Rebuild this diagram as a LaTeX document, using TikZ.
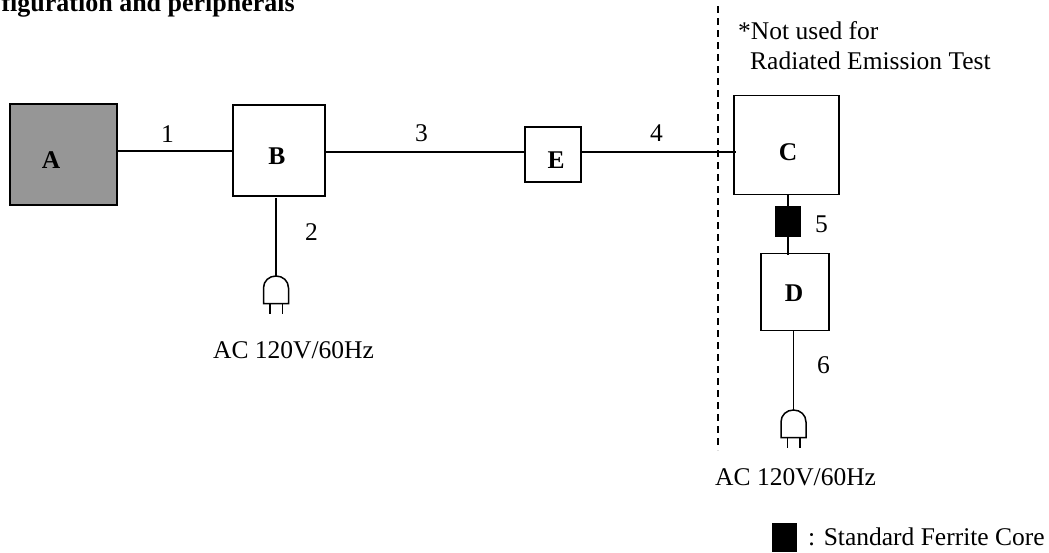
\documentclass[tikz,border=0pt]{standalone}
\usepackage{fontspec}
\setmainfont{Liberation Serif}
\definecolor{boxgrey}{HTML}{969696}
\tikzset{
  box/.style={draw=black,line width=1.6pt,inner sep=0pt,minimum width=0pt},
  wire/.style={draw=black,line width=1.6pt},
  lbl/.style={inner sep=0pt,anchor=base west,font=\fontsize{25.5}{30}\selectfont},
  letter/.style={inner sep=0pt,font=\fontsize{25.5}{30}\selectfont\bfseries},
  plug/.pic={
    \draw[line width=1.5pt,fill=white] (-12.5,27.5) -- (-12.5,12) .. controls (-12.5,5) and (-7,0) .. (0,0) .. controls (7,0) and (12.5,5) .. (12.5,12) -- (12.5,27.5) -- cycle;
    \draw[line width=1.4pt] (-6,27.5) -- (-6,37.5) (6.5,27.5) -- (6.5,37.5);
    \coordinate (-top) at (0,0);
  }
}
\begin{document}
\begin{tikzpicture}[x=1pt,y=-1pt]
\path[use as bounding box,clip] (0,0) rectangle (1049,552);
% title
\node[inner sep=0pt,anchor=base east,font=\fontsize{26}{30}\selectfont\bfseries] (title) at (295,11) {figuration and peripherals};
% boxes
\node[box,fill=boxgrey,minimum width=107pt,minimum height=101pt] (A) at (63.5,154.5) {};
\node[box,minimum width=92pt,minimum height=91pt] (B) at (279,150.5) {};
\node[box,minimum width=56pt,minimum height=55pt] (E) at (553,154.5) {};
\node[box,minimum width=105pt,minimum height=99pt] (C) at (786.5,145) {};
\node[box,minimum width=68pt,minimum height=77pt] (D) at (795,292) {};
\node[box,fill=black,minimum width=24pt,minimum height=29pt] (F) at (788,221.5) {};
\node[box,fill=black,draw=none,minimum width=25pt,minimum height=29pt] (L) at (784.5,537.5) {};
% letters
\node[letter] (la) at (51,160) {A};
\node[letter] (lb) at (277,156) {B};
\node[letter] (le) at (556,160) {E};
\node[letter] (lc) at (788,152) {C};
\node[letter] (ld) at (794,293) {D};
% plugs
\pic (p1) at (276,276) {plug};
\pic (p2) at (793.5,410) {plug};
% helper points on box edges
\coordinate (a1) at (A.east |- 0,151);
\coordinate (b1) at (B.west |- 0,151);
\coordinate (b2) at (B.east |- 0,152);
\coordinate (e1) at (E.west |- 0,152);
\coordinate (e2) at (E.east |- 0,152);
\coordinate (c1) at (736,152);
\coordinate (b3) at (276,198);
\coordinate (c3) at (788,194.5);
\coordinate (d3) at (788,255);
\coordinate (d4) at (793.5,330);
\coordinate (dt) at (718,6);
\coordinate (db) at (718,450);
% connectors
\draw[wire] (a1) -- (b1);
\draw[wire] (b2) -- (e1);
\draw[wire] (e2) -- (c1);
\draw[wire] (b3) -- (p1-top);
\draw[wire] (c3) -- (F.north);
\draw[wire] (F.south) -- (d3);
\draw[wire] (d4) -- (p2-top);
\draw[line width=1.4pt,dash pattern=on 7pt off 5pt] (dt) -- (db);
% numbers
\node[lbl] (n1) at (161,142) {1};
\node[lbl] (n2) at (305,240) {2};
\node[lbl] (n3) at (415,141) {3};
\node[lbl] (n4) at (650,141) {4};
\node[lbl] (n5) at (815,232) {5};
\node[lbl] (n6) at (817,373) {6};
% text
\node[lbl] (t1) at (738,39) {*Not used for};
\node[lbl] (t2) at (750,69) {Radiated Emission Test};
\node[lbl] (ac1) at (213,358) {AC 120V/60Hz};
\node[lbl] (ac2) at (715,485) {AC 120V/60Hz};
\node[lbl] (leg) at (808,545) {: Standard Ferrite Core};
\end{tikzpicture}
\end{document}
